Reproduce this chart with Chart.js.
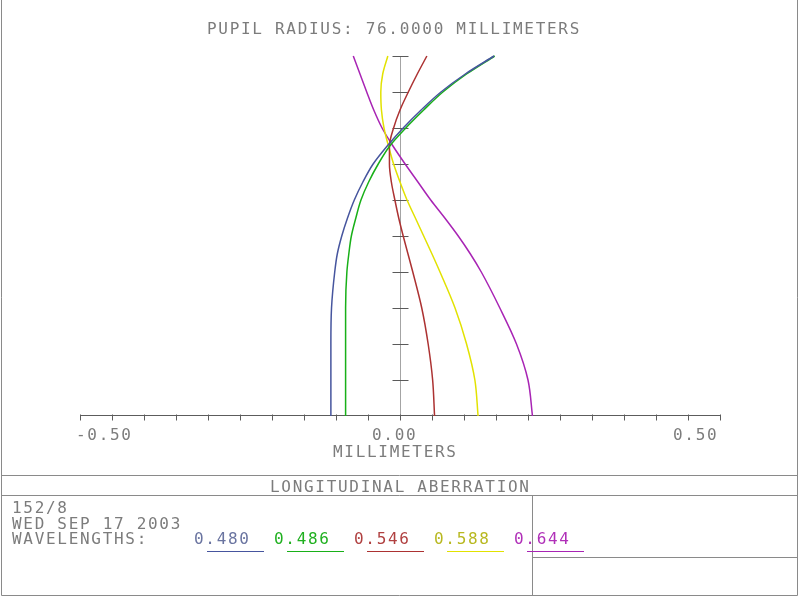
<!DOCTYPE html>
<html lang="en">

<head>
    <meta charset="UTF-8">
    <title>Longitudinal Aberration</title>
    <script src="https://cdn.jsdelivr.net/npm/chart.js"></script>
    <style>
        html, body { margin: 0; padding: 0; background: #fff; }
        canvas { display: block; }
    </style>
</head>

<body>
    <canvas id="aberration-chart" width="800" height="597"></canvas>
    <script>
        // Normalised pupil coordinate (vertical axis)
        const pupil = [0, 0.1, 0.2, 0.3, 0.4, 0.45, 0.5, 0.55, 0.6, 0.65, 0.7, 0.75, 0.8, 0.85, 0.9, 0.95, 1.0];

        // Focus shift in millimeters for each wavelength
        const w480 = [-0.108, -0.108, -0.108, -0.107, -0.102, -0.098, -0.091, -0.082, -0.0714, -0.058, -0.042, -0.020, 0.005, 0.033, 0.064, 0.102, 0.147];
        const w486 = [-0.085, -0.085, -0.085, -0.085, -0.083, -0.080, -0.076, -0.069, -0.061, -0.049, -0.034, -0.016, 0.009, 0.037, 0.067, 0.104, 0.148];
        const w546 = [0.054, 0.051, 0.044, 0.034, 0.020, 0.0125, 0.005, -0.002, -0.008, -0.0135, -0.0165, -0.0165, -0.010, 0.000, 0.013, 0.027, 0.042];
        const w588 = [0.122, 0.117, 0.104, 0.086, 0.0625, 0.050, 0.037, 0.024, 0.011, 0.000, -0.010, -0.018, -0.025, -0.029, -0.030, -0.027, -0.019];
        const w644 = [0.207, 0.200, 0.182, 0.156, 0.127, 0.110, 0.091, 0.070, 0.048, 0.028, 0.008, -0.011, -0.028, -0.041, -0.052, -0.0625, -0.073];

        const wavelengths = ["0.480", "0.486", "0.546", "0.588", "0.644"];
        const series = [w480, w486, w546, w588, w644];
        const colors = ["#46559e", "#18b018", "#ac3232", "#e2e200", "#a824b4"];
        const legendText = ["#6a74a0", "#20b020", "#b04040", "#b8b820", "#b030b8"];

        const xTickValues = [-0.5, 0, 0.5];
        const xTickLabels = ["-0.50", "0.00", "0.50"];
        const xTickOffset = [-4, -28, -47];  // label left edge relative to its tick

        const FONT = '16px "DejaVu Sans Mono", "Liberation Mono", monospace';
        const TEXT = "#7c7c7c";

        function text(ctx, str, x, y, color) {
            ctx.fillStyle = color || TEXT;
            ctx.fillText(str, x, y);
        }

        function line(ctx, x1, y1, x2, y2, color) {
            ctx.strokeStyle = color;
            ctx.beginPath();
            ctx.moveTo(x1, y1);
            ctx.lineTo(x2, y2);
            ctx.stroke();
        }

        const zemaxFrame = {
            id: "zemaxFrame",
            beforeDatasetsDraw(chart) {
                const ctx = chart.ctx;
                const xs = chart.scales.x;
                const ys = chart.scales.y;
                const x0 = Math.round(xs.getPixelForValue(0)) + 0.5;
                const yBase = Math.round(ys.getPixelForValue(0)) - 0.5;
                ctx.save();
                ctx.lineWidth = 1;

                // vertical axis and pupil ticks
                line(ctx, x0, ys.getPixelForValue(1), x0, yBase, "#a4a4a4");
                for (let k = 1; k <= 10; k++) {
                    const y = Math.round(ys.getPixelForValue(k / 10)) + 0.5;
                    line(ctx, x0 - 8, y, x0 + 8, y, "#5a5a5a");
                }

                // horizontal axis and ticks every 0.05 mm
                line(ctx, xs.getPixelForValue(-0.5), yBase, xs.getPixelForValue(0.5) + 1, yBase, "#5c5c5c");
                for (let k = -10; k <= 10; k++) {
                    const x = Math.round(xs.getPixelForValue(k * 0.05)) + 0.5;
                    line(ctx, x, yBase - 1, x, yBase + 5, "#5c5c5c");
                }
                ctx.restore();
            },
            afterDraw(chart) {
                const ctx = chart.ctx;
                const xs = chart.scales.x;
                ctx.save();
                ctx.font = FONT;
                ctx.letterSpacing = "1.7px";
                ctx.textBaseline = "alphabetic";
                ctx.lineWidth = 1;

                text(ctx, "PUPIL RADIUS: 76.0000 MILLIMETERS", 207, 34);

                xTickValues.forEach((v, i) => {
                    text(ctx, xTickLabels[i], xs.getPixelForValue(v) + xTickOffset[i], 440);
                });
                text(ctx, "MILLIMETERS", 333, 457);

                // title block
                const g = "#8a8a8a";
                line(ctx, 1.5, 0, 1.5, 595.5, g);
                line(ctx, 797.5, 0, 797.5, 595.5, g);
                line(ctx, 1.5, 595.5, 797.5, 595.5, g);
                line(ctx, 1.5, 475.5, 797.5, 475.5, g);
                line(ctx, 1.5, 495.5, 797.5, 495.5, g);
                line(ctx, 532.5, 495.5, 532.5, 595.5, g);
                line(ctx, 532.5, 557.5, 797.5, 557.5, g);

                text(ctx, "LONGITUDINAL ABERRATION", 270, 492);
                text(ctx, "152/8", 12, 513);
                text(ctx, "WED SEP 17 2003", 12, 528.5);
                text(ctx, "WAVELENGTHS:", 12, 544);

                wavelengths.forEach((w, i) => {
                    const x = 194 + 80 * i;
                    text(ctx, w, x, 544, legendText[i]);
                    line(ctx, x + 13, 551.5, x + 70, 551.5, colors[i]);
                });
                ctx.restore();
            }
        };

        // each curve is a function of pupil height, so interpolate along y
        const datasets = series.map((vals, i) => ({
            label: wavelengths[i],
            data: vals.map((v, j) => ({ x: v, y: pupil[j] })),
            showLine: true,
            borderColor: colors[i],
            borderWidth: 1.5,
            pointRadius: 0,
            cubicInterpolationMode: "monotone",
            fill: false,
            clip: false,
        }));

        const ctx = document.getElementById("aberration-chart").getContext("2d");
        new Chart(ctx, {
            type: "scatter",
            data: { datasets: datasets },
            options: {
                indexAxis: "y",
                responsive: false,
                animation: false,
                devicePixelRatio: 1,
                layout: { padding: { left: 80, right: 80, top: 56, bottom: 181 } },
                plugins: {
                    legend: { display: false },
                    tooltip: { enabled: false },
                },
                scales: {
                    x: { type: "linear", min: -0.5, max: 0.5, display: false },
                    y: { type: "linear", min: 0, max: 1, display: false },
                },
            },
            plugins: [zemaxFrame],
        });
    </script>
</body>

</html>
